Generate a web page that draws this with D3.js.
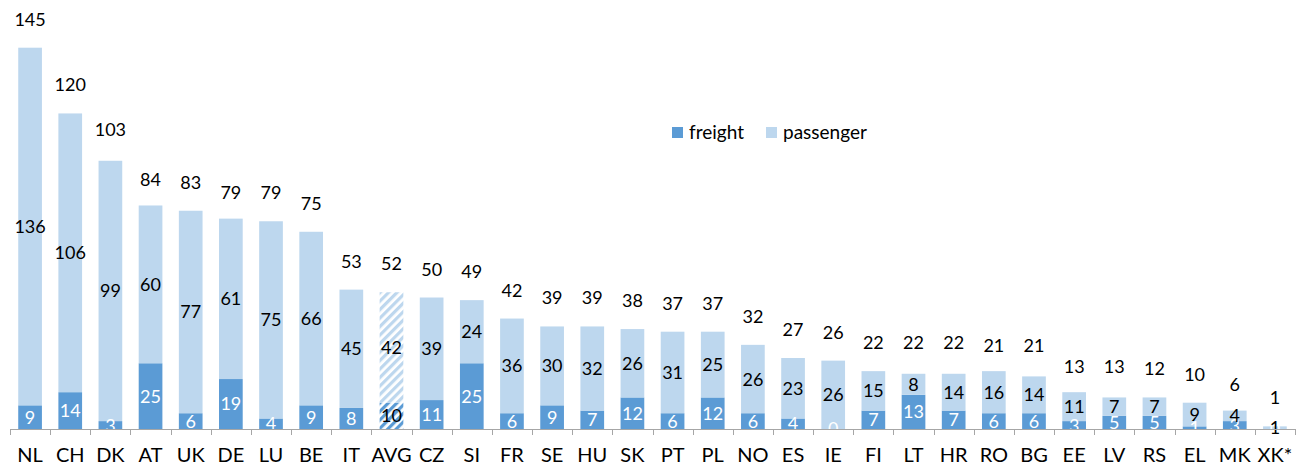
<html lang="en">
<head>
<style>
  body { margin: 0; background: #fff; }
  text { font-family: Lato, "Open Sans", sans-serif; }
</style>
</head>
<body>
<svg width="1296" height="465"></svg>
<script src="https://d3js.org/d3.v7.min.js"></script>
<script>
// data
var countries = ["NL","CH","DK","AT","UK","DE","LU","BE","IT","AVG","CZ","SI","FR","SE","HU","SK",
  "PT","PL","NO","ES","IE","FI","LT","HR","RO","BG","EE","LV","RS","EL","MK","XK*"];
var freight = [9,14,3,25,6,19,4,9,8,10,11,25,6,9,7,12,6,12,6,4,0,7,13,7,6,6,3,5,5,1,3,0];
var passenger = [136,106,99,60,77,61,75,66,45,42,39,24,36,30,32,26,31,25,26,23,26,15,8,14,16,14,11,7,7,9,4,1];
var totals = [145,120,103,84,83,79,79,75,53,52,50,49,42,39,39,38,37,37,32,27,26,22,22,22,21,21,13,13,12,10,6,1];
var seriesNames = ["freight", "passenger"];

var svg = d3.select("svg");
var colFreight = "#5b9bd5", colPass = "#bdd7ee";
var base = 429;

var x = d3.scaleBand().domain(countries).range([10, 1295]).paddingInner(0.41).paddingOuter(0.205);
var y = d3.scaleLinear().domain([0, 145]).range([base, 47.7]);
var step = x.step();

// hatch patterns for the average bar
var defs = svg.append("defs");
function hatch(id, col) {
  var p = defs.append("pattern").attr("id", id)
    .attr("patternUnits", "userSpaceOnUse").attr("width", 6).attr("height", 6)
    .attr("patternTransform", "rotate(45)");
  p.append("rect").attr("width", 6).attr("height", 6).attr("fill", "#fff");
  p.append("rect").attr("width", 3.2).attr("height", 6).attr("fill", col);
}
hatch("hatchF", colFreight);
hatch("hatchP", colPass);

var data = countries.map(function(c, i) {
  return {c: c, f: freight[i], p: passenger[i], t: totals[i]};
});

var g = svg.append("g");

// freight bars
g.selectAll(".fbar").data(data).enter().append("rect")
  .attr("x", function(d) { return x(d.c); })
  .attr("width", x.bandwidth())
  .attr("y", function(d) { return y(d.f); })
  .attr("height", function(d) { return base - y(d.f); })
  .attr("fill", function(d) { return d.c == "AVG" ? "url(#hatchF)" : colFreight; });

// passenger bars
g.selectAll(".pbar").data(data).enter().append("rect")
  .attr("x", function(d) { return x(d.c); })
  .attr("width", x.bandwidth())
  .attr("y", function(d) { return y(d.f + d.p); })
  .attr("height", function(d) { return y(d.f) - y(d.f + d.p); })
  .attr("fill", function(d) { return d.c == "AVG" ? "url(#hatchP)" : colPass; });

// axis
var axis = svg.append("g");
axis.append("line").attr("x1", 10).attr("x2", 1295).attr("y1", base + 0.5).attr("y2", base + 0.5)
  .attr("stroke", "#a6a6a6").attr("stroke-width", 1);
var ticks = countries.map(function(c) { return x(c) + x.bandwidth() / 2 - step / 2; });
ticks.push(ticks[ticks.length - 1] + step);
axis.selectAll(".tk").data(ticks).enter().append("line")
  .attr("x1", function(d) { return Math.round(d) + 0.5; })
  .attr("x2", function(d) { return Math.round(d) + 0.5; })
  .attr("y1", base).attr("y2", base + 6)
  .attr("stroke", "#a6a6a6");
axis.selectAll(".cat").data(countries).enter().append("text")
  .attr("x", function(d) { return x(d) + x.bandwidth() / 2; })
  .attr("y", 462)
  .attr("text-anchor", "middle")
  .attr("font-size", "20px")
  .attr("fill", "#000")
  .text(function(d) { return d; });

// labels: freight (white), passenger, total
g.selectAll(".fl").data(data).enter().append("text")
  .attr("x", function(d) { return x(d.c) + x.bandwidth() / 2; })
  .attr("y", function(d) { return (base + y(d.f)) / 2; })
  .attr("dy", "0.36em")
  .attr("text-anchor", "middle")
  .attr("font-size", "18px")
  .attr("fill", function(d) { return d.c == "AVG" ? "#000" : "#fff"; })
  .text(function(d) { return d.f; });

g.selectAll(".pl").data(data).enter().append("text")
  .attr("x", function(d) { return x(d.c) + x.bandwidth() / 2; })
  .attr("y", function(d) { return (y(d.f) + y(d.f + d.p)) / 2; })
  .attr("dy", "0.36em")
  .attr("text-anchor", "middle")
  .attr("font-size", "18px")
  .attr("fill", "#000")
  .text(function(d) { return d.p; });

g.selectAll(".tl").data(data).enter().append("text")
  .attr("x", function(d) { return x(d.c) + x.bandwidth() / 2; })
  .attr("y", function(d) { return y(d.t) - 22; })
  .attr("text-anchor", "middle")
  .attr("font-size", "18px")
  .attr("fill", "#000")
  .text(function(d) { return d.t; });

// legend
var legend = svg.append("g").attr("transform", "translate(672,127)");
var lx = [0, 94];
seriesNames.forEach(function(s, i) {
  legend.append("rect").attr("x", lx[i]).attr("y", 0).attr("width", 11).attr("height", 11)
    .attr("fill", i == 0 ? colFreight : colPass);
  legend.append("text").attr("x", lx[i] + 17).attr("y", 5.5).attr("dy", "0.36em")
    .attr("font-size", "19px").attr("fill", "#000").text(s);
});
</script>
</body>
</html>
